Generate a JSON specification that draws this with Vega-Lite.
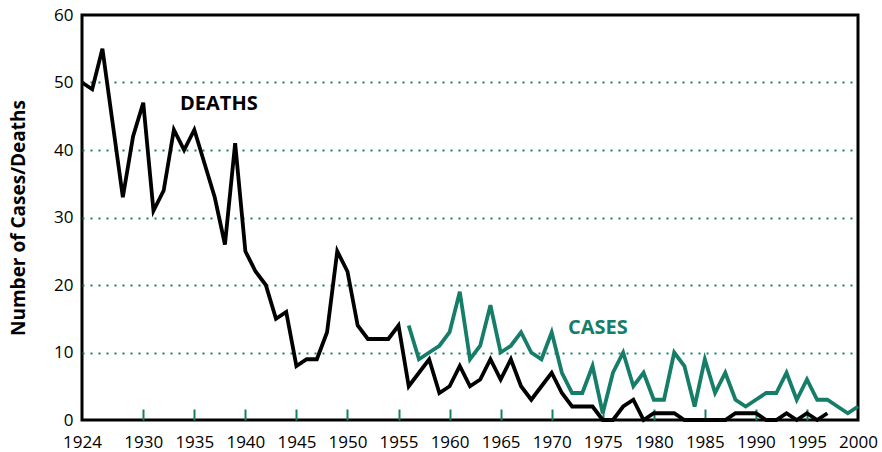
{
  "$schema": "https://vega.github.io/schema/vega-lite/v6.json",
  "width": 776,
  "height": 405,
  "autosize": {"type": "none"},
  "padding": {"left": 82, "top": 15, "right": 24, "bottom": 32},
  "background": "white",
  "config": {"view": {"stroke": "black", "strokeWidth": 3}, "font": "Open Sans"},
  "datasets": {
    "series": [
      {"series": "Cases", "year": 1956, "value": 14}, {"series": "Cases", "year": 1957, "value": 9},
      {"series": "Cases", "year": 1958, "value": 10}, {"series": "Cases", "year": 1959, "value": 11},
      {"series": "Cases", "year": 1960, "value": 13}, {"series": "Cases", "year": 1961, "value": 19},
      {"series": "Cases", "year": 1962, "value": 9}, {"series": "Cases", "year": 1963, "value": 11},
      {"series": "Cases", "year": 1964, "value": 17}, {"series": "Cases", "year": 1965, "value": 10},
      {"series": "Cases", "year": 1966, "value": 11}, {"series": "Cases", "year": 1967, "value": 13},
      {"series": "Cases", "year": 1968, "value": 10}, {"series": "Cases", "year": 1969, "value": 9},
      {"series": "Cases", "year": 1970, "value": 13}, {"series": "Cases", "year": 1971, "value": 7},
      {"series": "Cases", "year": 1972, "value": 4}, {"series": "Cases", "year": 1973, "value": 4},
      {"series": "Cases", "year": 1974, "value": 8}, {"series": "Cases", "year": 1975, "value": 1},
      {"series": "Cases", "year": 1976, "value": 7}, {"series": "Cases", "year": 1977, "value": 10},
      {"series": "Cases", "year": 1978, "value": 5}, {"series": "Cases", "year": 1979, "value": 7},
      {"series": "Cases", "year": 1980, "value": 3}, {"series": "Cases", "year": 1981, "value": 3},
      {"series": "Cases", "year": 1982, "value": 10}, {"series": "Cases", "year": 1983, "value": 8},
      {"series": "Cases", "year": 1984, "value": 2}, {"series": "Cases", "year": 1985, "value": 9},
      {"series": "Cases", "year": 1986, "value": 4}, {"series": "Cases", "year": 1987, "value": 7},
      {"series": "Cases", "year": 1988, "value": 3}, {"series": "Cases", "year": 1989, "value": 2},
      {"series": "Cases", "year": 1990, "value": 3}, {"series": "Cases", "year": 1991, "value": 4},
      {"series": "Cases", "year": 1992, "value": 4}, {"series": "Cases", "year": 1993, "value": 7},
      {"series": "Cases", "year": 1994, "value": 3}, {"series": "Cases", "year": 1995, "value": 6},
      {"series": "Cases", "year": 1996, "value": 3}, {"series": "Cases", "year": 1997, "value": 3},
      {"series": "Cases", "year": 1998, "value": 2}, {"series": "Cases", "year": 1999, "value": 1},
      {"series": "Cases", "year": 2000, "value": 2},
      {"series": "Deaths", "year": 1924, "value": 50}, {"series": "Deaths", "year": 1925, "value": 49},
      {"series": "Deaths", "year": 1926, "value": 55}, {"series": "Deaths", "year": 1927, "value": 44},
      {"series": "Deaths", "year": 1928, "value": 33}, {"series": "Deaths", "year": 1929, "value": 42},
      {"series": "Deaths", "year": 1930, "value": 47}, {"series": "Deaths", "year": 1931, "value": 31},
      {"series": "Deaths", "year": 1932, "value": 34}, {"series": "Deaths", "year": 1933, "value": 43},
      {"series": "Deaths", "year": 1934, "value": 40}, {"series": "Deaths", "year": 1935, "value": 43},
      {"series": "Deaths", "year": 1936, "value": 38}, {"series": "Deaths", "year": 1937, "value": 33},
      {"series": "Deaths", "year": 1938, "value": 26}, {"series": "Deaths", "year": 1939, "value": 41},
      {"series": "Deaths", "year": 1940, "value": 25}, {"series": "Deaths", "year": 1941, "value": 22},
      {"series": "Deaths", "year": 1942, "value": 20}, {"series": "Deaths", "year": 1943, "value": 15},
      {"series": "Deaths", "year": 1944, "value": 16}, {"series": "Deaths", "year": 1945, "value": 8},
      {"series": "Deaths", "year": 1946, "value": 9}, {"series": "Deaths", "year": 1947, "value": 9},
      {"series": "Deaths", "year": 1948, "value": 13}, {"series": "Deaths", "year": 1949, "value": 25},
      {"series": "Deaths", "year": 1950, "value": 22}, {"series": "Deaths", "year": 1951, "value": 14},
      {"series": "Deaths", "year": 1952, "value": 12}, {"series": "Deaths", "year": 1953, "value": 12},
      {"series": "Deaths", "year": 1954, "value": 12}, {"series": "Deaths", "year": 1955, "value": 14},
      {"series": "Deaths", "year": 1956, "value": 5}, {"series": "Deaths", "year": 1957, "value": 7},
      {"series": "Deaths", "year": 1958, "value": 9}, {"series": "Deaths", "year": 1959, "value": 4},
      {"series": "Deaths", "year": 1960, "value": 5}, {"series": "Deaths", "year": 1961, "value": 8},
      {"series": "Deaths", "year": 1962, "value": 5}, {"series": "Deaths", "year": 1963, "value": 6},
      {"series": "Deaths", "year": 1964, "value": 9}, {"series": "Deaths", "year": 1965, "value": 6},
      {"series": "Deaths", "year": 1966, "value": 9}, {"series": "Deaths", "year": 1967, "value": 5},
      {"series": "Deaths", "year": 1968, "value": 3}, {"series": "Deaths", "year": 1969, "value": 5},
      {"series": "Deaths", "year": 1970, "value": 7}, {"series": "Deaths", "year": 1971, "value": 4},
      {"series": "Deaths", "year": 1972, "value": 2}, {"series": "Deaths", "year": 1973, "value": 2},
      {"series": "Deaths", "year": 1974, "value": 2}, {"series": "Deaths", "year": 1975, "value": 0},
      {"series": "Deaths", "year": 1976, "value": 0}, {"series": "Deaths", "year": 1977, "value": 2},
      {"series": "Deaths", "year": 1978, "value": 3}, {"series": "Deaths", "year": 1979, "value": 0},
      {"series": "Deaths", "year": 1980, "value": 1}, {"series": "Deaths", "year": 1981, "value": 1},
      {"series": "Deaths", "year": 1982, "value": 1}, {"series": "Deaths", "year": 1983, "value": 0},
      {"series": "Deaths", "year": 1984, "value": 0}, {"series": "Deaths", "year": 1985, "value": 0},
      {"series": "Deaths", "year": 1986, "value": 0}, {"series": "Deaths", "year": 1987, "value": 0},
      {"series": "Deaths", "year": 1988, "value": 1}, {"series": "Deaths", "year": 1989, "value": 1},
      {"series": "Deaths", "year": 1990, "value": 1}, {"series": "Deaths", "year": 1991, "value": 0},
      {"series": "Deaths", "year": 1992, "value": 0}, {"series": "Deaths", "year": 1993, "value": 1},
      {"series": "Deaths", "year": 1994, "value": 0}, {"series": "Deaths", "year": 1995, "value": 1},
      {"series": "Deaths", "year": 1996, "value": 0}, {"series": "Deaths", "year": 1997, "value": 1}
    ],
    "labels": [
      {"series": "Deaths", "label": "DEATHS", "year": 1933.6, "value": 46.8},
      {"series": "Cases", "label": "CASES", "year": 1971.6, "value": 13.6}
    ]
  },
  "layer": [
    {
      "data": {"name": "series"},
      "mark": {"type": "line", "strokeWidth": 3.8, "strokeJoin": "miter"},
      "encoding": {
        "x": {
          "field": "year", "type": "quantitative",
          "scale": {"domain": [1924, 2000], "nice": false, "zero": false},
          "axis": {
            "values": [1924, 1930, 1935, 1940, 1945, 1950, 1955, 1960, 1965, 1970, 1975, 1980, 1985, 1990, 1995, 2000],
            "format": "d", "title": null, "domain": false, "grid": false,
            "tickSize": -11, "tickWidth": 2,
            "tickColor": {"condition": {"test": "datum.value == 1924 || datum.value == 2000", "value": "transparent"}, "value": "#167d69"},
            "labelPadding": 25, "labelFontSize": 17, "labelColor": "black",
            "labelFlush": false, "labelOverlap": false
          }
        },
        "y": {
          "field": "value", "type": "quantitative",
          "scale": {"domain": [0, 60], "nice": false},
          "axis": {
            "values": [0, 10, 20, 30, 40, 50, 60],
            "title": "Number of Cases/Deaths", "titleFontSize": 19, "titleFontWeight": "bold",
            "titleColor": "black", "titlePadding": 25,
            "domain": false, "ticks": false, "labelPadding": 9, "labelFontSize": 17, "labelColor": "black",
            "grid": true,
            "gridColor": {"condition": {"test": "datum.value == 0 || datum.value == 60", "value": "transparent"}, "value": "#167d69"},
            "gridDash": [2, 6], "gridWidth": 2, "gridOpacity": 1
          }
        },
        "color": {"field": "series", "type": "nominal", "scale": {"domain": ["Deaths", "Cases"], "range": ["#000000", "#167d69"]}, "legend": null}
      }
    },
    {
      "data": {"name": "labels"},
      "mark": {"type": "text", "fontWeight": "bold", "fontSize": 20, "align": "left", "baseline": "middle"},
      "encoding": {
        "x": {"field": "year", "type": "quantitative"},
        "y": {"field": "value", "type": "quantitative"},
        "text": {"field": "label"},
        "color": {"field": "series", "type": "nominal", "legend": null}
      }
    }
  ]
}
